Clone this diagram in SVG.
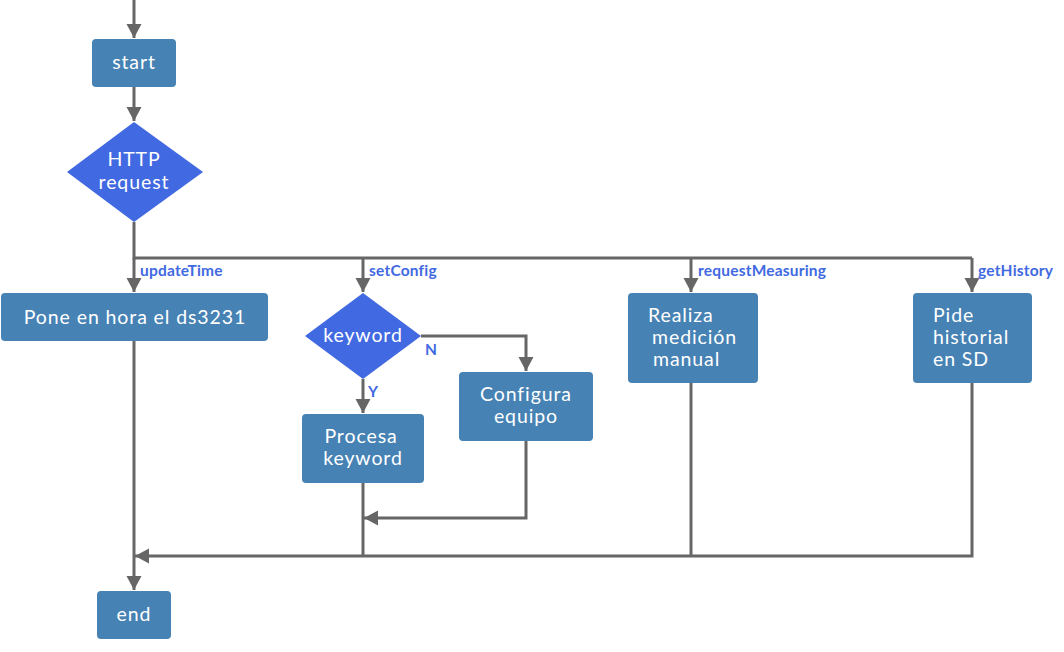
<svg xmlns="http://www.w3.org/2000/svg" width="1064" height="652" viewBox="0 0 1064 652">
  <style>
    .box { fill: #4682b4; }
    .dia { fill: #4169e1; }
    .t { font-family: Lato, "Liberation Sans", sans-serif; font-size: 19.5px; letter-spacing: 0.9px; fill: #ffffff; text-anchor: middle; }
    .tl { font-family: Lato, "Liberation Sans", sans-serif; font-size: 19.5px; letter-spacing: 0.9px; fill: #ffffff; }
    .lbl { font-family: Lato, "Liberation Sans", sans-serif; font-size: 15.5px; letter-spacing: 0.2px; font-weight: bold; fill: #4169e1; }
    .ln { fill: none; stroke: #666666; stroke-width: 3; }
  </style>
  <defs>
    <marker id="arr" markerUnits="userSpaceOnUse" markerWidth="16" markerHeight="16" viewBox="0 0 16 16" refX="14" refY="8" orient="auto">
      <path d="M0,0.5 L14,8 L0,15.5 Z" fill="#666666"/>
    </marker>
  </defs>

  <!-- connectors -->
  <g id="connectors">
    <path class="ln" d="M134,0 V38" marker-end="url(#arr)"/>
    <path class="ln" d="M134,87 V121" marker-end="url(#arr)"/>
    <path class="ln" d="M134,222 V258 H972"/>
    <path class="ln" d="M134,258 V292" marker-end="url(#arr)"/>
    <path class="ln" d="M363,258 V292" marker-end="url(#arr)"/>
    <path class="ln" d="M691,258 V292" marker-end="url(#arr)"/>
    <path class="ln" d="M972,258 V292" marker-end="url(#arr)"/>
    <path class="ln" d="M421,336 H526 V371" marker-end="url(#arr)"/>
    <path class="ln" d="M363,379 V413" marker-end="url(#arr)"/>
    <path class="ln" d="M526,441 V518 H364" marker-end="url(#arr)"/>
    <path class="ln" d="M363,483 V556"/>
    <path class="ln" d="M691,383 V556"/>
    <path class="ln" d="M972,383 V556 H135" marker-end="url(#arr)"/>
    <path class="ln" d="M134,341 V590" marker-end="url(#arr)"/>
    <text class="lbl" x="140" y="276">updateTime</text>
    <text class="lbl" x="369" y="276">setConfig</text>
    <text class="lbl" x="698" y="276">requestMeasuring</text>
    <text class="lbl" x="978" y="276">getHistory</text>
    <text class="lbl" x="425" y="355">N</text>
    <text class="lbl" x="368" y="397">Y</text>
  </g>

  <g id="start">
    <rect class="box" x="92" y="39" width="84" height="48" rx="4"/>
    <text class="t" x="134" y="69">start</text>
  </g>

  <g id="http">
    <polygon class="dia" points="134,122 203,172 134,222 67,172"/>
    <text class="t" x="134" y="166">HTTP</text>
    <text class="t" x="134" y="189">request</text>
  </g>

  <g id="ponehora">
    <rect class="box" x="1" y="293" width="267" height="48" rx="4"/>
    <text class="t" x="135" y="324">Pone en hora el ds3231</text>
  </g>

  <g id="keyword">
    <polygon class="dia" points="363,293 421,336 363,379 305,336"/>
    <text class="t" x="363" y="342">keyword</text>
  </g>

  <g id="configura">
    <rect class="box" x="459" y="372" width="134" height="69" rx="4"/>
    <text class="t" x="526" y="401">Configura</text>
    <text class="t" x="526" y="423">equipo</text>
  </g>

  <g id="procesa">
    <rect class="box" x="302" y="414" width="122" height="69" rx="4"/>
    <text class="t" x="361" y="443">Procesa</text>
    <text class="t" x="363" y="465">keyword</text>
  </g>

  <g id="realiza">
    <rect class="box" x="628" y="293" width="130" height="90" rx="4"/>
    <text class="tl" x="648" y="322">Realiza</text>
    <text class="tl" x="652" y="344">medición</text>
    <text class="tl" x="653" y="366">manual</text>
  </g>

  <g id="pide">
    <rect class="box" x="913" y="293" width="119" height="90" rx="4"/>
    <text class="tl" x="933" y="322">Pide</text>
    <text class="tl" x="933" y="344">historial</text>
    <text class="tl" x="933" y="366">en SD</text>
  </g>

  <g id="end">
    <rect class="box" x="97" y="591" width="74" height="48" rx="4"/>
    <text class="t" x="134" y="621">end</text>
  </g>
</svg>
